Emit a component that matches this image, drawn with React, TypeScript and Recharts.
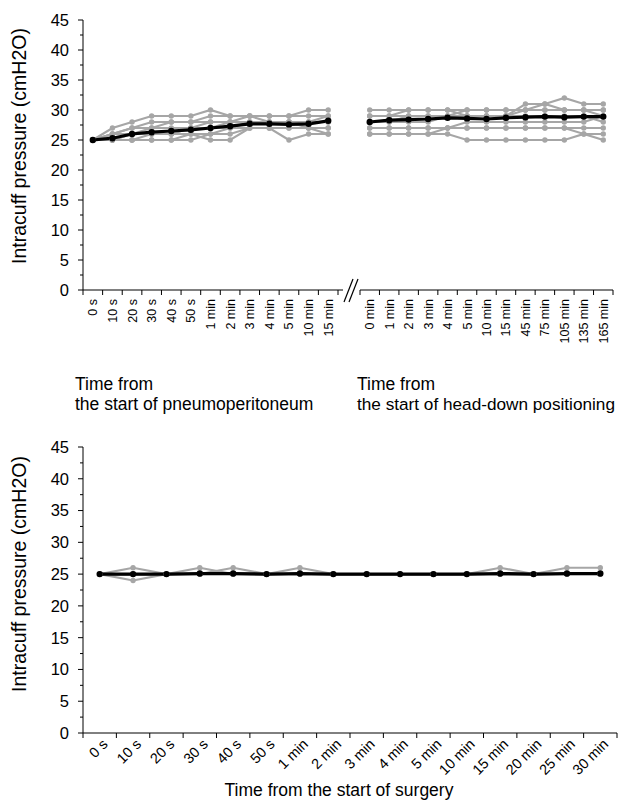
import { LineChart, Line, XAxis, YAxis } from "recharts";

const FONT = '"Liberation Sans", Arial, sans-serif';
const GREY = "#a6a6a6";

// y axis: labelled every 5, minor ticks in between
const yTicks = [0, 2.5, 5, 7.5, 10, 12.5, 15, 17.5, 20, 22.5, 25, 27.5, 30, 32.5, 35, 37.5, 40, 42.5, 45];

// top left: from the start of pneumoperitoneum
const pneumoCats = ["0 s", "10 s", "20 s", "30 s", "40 s", "50 s", "1 min", "2 min", "3 min", "4 min", "5 min", "10 min", "15 min"];
const pneumoPatients = [
  [25, 27, 28, 29, 29, 29, 30, 29, 29, 29, 29, 30, 30],
  [25, 26, 27, 28, 28, 28, 29, 29, 29, 29, 29, 29, 29],
  [25, 26, 27, 27, 28, 28, 28, 28, 29, 28, 28, 28, 29],
  [25, 25, 26, 27, 27, 27, 28, 28, 28, 28, 28, 28, 28],
  [25, 25, 26, 26, 26, 27, 27, 27, 28, 28, 28, 28, 28],
  [25, 25, 25, 26, 26, 26, 26, 27, 27, 27, 27, 27, 27],
  [25, 25, 25, 25, 25, 25, 26, 26, 27, 27, 25, 26, 26],
  [25, 25, 25, 25, 25, 26, 25, 25, 27, 27, 27, 27, 27],
  [25, 26, 26, 26, 26, 27, 27, 28, 28, 28, 28, 27, 26],
];
const pneumoMean = [25, 25.3, 26, 26.3, 26.5, 26.7, 27, 27.3, 27.7, 27.7, 27.6, 27.7, 28.2];

// top right: from the start of head-down positioning
const headDownCats = ["0 min", "1 min", "2 min", "3 min", "4 min", "5 min", "10 min", "15 min", "45 min", "75 min", "105 min", "135 min", "165 min"];
const headDownPatients = [
  [30, 30, 30, 30, 30, 30, 30, 30, 30, 30, 30, 30, 30],
  [29, 29, 30, 30, 30, 29, 29, 29, 31, 31, 32, 31, 31],
  [29, 29, 29, 29, 29, 30, 30, 30, 30, 31, 30, 30, 29],
  [28, 28, 28, 28, 29, 29, 29, 29, 29, 29, 29, 29, 28],
  [27, 27, 27, 27, 27, 28, 28, 28, 28, 28, 28, 28, 29],
  [27, 27, 27, 27, 27, 27, 27, 27, 27, 27, 27, 27, 27],
  [26, 26, 26, 26, 26, 25, 25, 25, 25, 25, 25, 26, 25],
  [26, 26, 26, 26, 27, 27, 27, 27, 27, 27, 27, 26, 26],
  [28, 28, 29, 29, 29, 29, 29, 29, 30, 30, 30, 30, 30],
];
const headDownMean = [28, 28.3, 28.4, 28.5, 28.7, 28.6, 28.5, 28.7, 28.8, 28.9, 28.8, 28.9, 28.9];

// bottom: from the start of surgery
const surgeryCats = ["0 s", "10 s", "20 s", "30 s", "40 s", "50 s", "1 min", "2 min", "3 min", "4 min", "5 min", "10 min", "15 min", "20 min", "25 min", "30 min"];
const surgeryPatients = [
  [25, 26, 25, 25, 25, 25, 25, 25, 25, 25, 25, 25, 25, 25, 25, 25],
  [25, 24, 25, 25, 25, 25, 25, 25, 25, 25, 25, 25, 25, 25, 25, 25],
  [25, 25, 25, 26, 25, 25, 25, 25, 25, 25, 25, 25, 25, 25, 25, 25],
  [25, 25, 25, 25, 26, 25, 25, 25, 25, 25, 25, 25, 25, 25, 25, 25],
  [25, 25, 25, 25, 25, 25, 26, 25, 25, 25, 25, 25, 25, 25, 25, 25],
  [25, 25, 25, 25, 25, 25, 25, 25, 25, 25, 25, 25, 26, 25, 25, 25],
  [25, 25, 25, 25, 25, 25, 25, 25, 25, 25, 25, 25, 25, 25, 26, 26],
];
const surgeryMean = [25, 25, 25, 25.1, 25.1, 25, 25.1, 25, 25, 25, 25, 25, 25.1, 25, 25.1, 25.1];

function buildRows(cats: string[], patients: number[][], mean: number[]) {
  return cats.map((cat, i) => {
    const row: Record<string, string | number> = { cat, mean: mean[i] };
    patients.forEach((p, j) => {
      row[`p${j}`] = p[i];
    });
    return row;
  });
}

function YTick({ x, y, payload }: any) {
  const major = payload.value % 5 === 0;
  return (
    <g>
      <line x1={x - (major ? 5 : 3)} x2={x} y1={y} y2={y} stroke="#000" />
      {major && (
        <text x={x - 14} y={y} dy="0.36em" textAnchor="end" fontSize={16.5} fontFamily={FONT} fill="#000">
          {payload.value}
        </text>
      )}
    </g>
  );
}

// tick marks sit on the category boundaries, labels in the middle
function makeXTick(step: number, count: number, angle: number) {
  return ({ x, y, payload, index }: any) => (
    <g>
      <line x1={x - step / 2} x2={x - step / 2} y1={y} y2={y + 5} stroke="#000" />
      {index === count - 1 && <line x1={x + step / 2} x2={x + step / 2} y1={y} y2={y + 5} stroke="#000" />}
      {angle === -90 ? (
        <text transform={`translate(${x + 4.5},${y + 9}) rotate(-90)`} textAnchor="end" fontSize={12.5} fontFamily={FONT} fill="#000">
          {payload.value}
        </text>
      ) : (
        <text transform={`translate(${x + 9},${y + 12}) rotate(-45)`} textAnchor="end" fontSize={14.5} fontFamily={FONT} fill="#000">
          {payload.value}
        </text>
      )}
    </g>
  );
}

function seriesLines(patients: number[][]) {
  const greys = patients.map((_, j) => (
    <Line
      key={`p${j}`}
      dataKey={`p${j}`}
      stroke={GREY}
      strokeWidth={2.2}
      dot={{ r: 2.7, fill: GREY, stroke: "none" }}
      activeDot={false}
      isAnimationActive={false}
    />
  ));
  return [
    ...greys,
    <Line
      key="mean"
      dataKey="mean"
      stroke="#000"
      strokeWidth={3.2}
      dot={{ r: 3.2, fill: "#000", stroke: "none" }}
      activeDot={false}
      isAnimationActive={false}
    />,
  ];
}

const TOP_H = 346;
const LEFT_W = 345;
const LEFT_PLOT = 338 - 83;
const RIGHT_PLOT = 613 - 360;
const BOTTOM_PLOT = 617 - 83;

export default function App() {
  const pneumoRows = buildRows(pneumoCats, pneumoPatients, pneumoMean);
  const headDownRows = buildRows(headDownCats, headDownPatients, headDownMean);
  const surgeryRows = buildRows(surgeryCats, surgeryPatients, surgeryMean);

  const axisStyle = { stroke: "#000", strokeWidth: 1 };

  return (
    <div style={{ position: "absolute", left: 0, top: 0, width: 625, height: 809, background: "#fff", fontFamily: FONT }}>
      <div style={{ position: "absolute", left: 0, top: 0 }}>
        <LineChart width={LEFT_W} height={TOP_H} data={pneumoRows} margin={{ top: 20, right: LEFT_W - 338, bottom: 0, left: 0 }}>
          <YAxis
            domain={[0, 45]}
            ticks={yTicks}
            interval={0}
            width={83}
            axisLine={axisStyle}
            tickLine={false}
            tickSize={0}
            tickMargin={0}
            tick={<YTick />}
          />
          <XAxis
            dataKey="cat"
            scale="band"
            interval={0}
            height={56}
            axisLine={axisStyle}
            tickLine={false}
            tickSize={0}
            tickMargin={0}
            tick={makeXTick(LEFT_PLOT / pneumoCats.length, pneumoCats.length, -90)}
          />
          {seriesLines(pneumoPatients)}
        </LineChart>
      </div>

      <div style={{ position: "absolute", left: LEFT_W, top: 0 }}>
        <LineChart width={625 - LEFT_W} height={TOP_H} data={headDownRows} margin={{ top: 20, right: 625 - 613, bottom: 0, left: 360 - LEFT_W }}>
          <YAxis domain={[0, 45]} hide />
          <XAxis
            dataKey="cat"
            scale="band"
            interval={0}
            height={56}
            axisLine={axisStyle}
            tickLine={false}
            tickSize={0}
            tickMargin={0}
            tick={makeXTick(RIGHT_PLOT / headDownCats.length, headDownCats.length, -90)}
          />
          {seriesLines(headDownPatients)}
        </LineChart>
      </div>

      <div style={{ position: "absolute", left: 0, top: 428 }}>
        <LineChart width={625} height={381} data={surgeryRows} margin={{ top: 19, right: 625 - 617, bottom: 0, left: 0 }}>
          <YAxis
            domain={[0, 45]}
            ticks={yTicks}
            interval={0}
            width={83}
            axisLine={axisStyle}
            tickLine={false}
            tickSize={0}
            tickMargin={0}
            tick={<YTick />}
          />
          <XAxis
            dataKey="cat"
            scale="band"
            interval={0}
            height={76}
            axisLine={axisStyle}
            tickLine={false}
            tickSize={0}
            tickMargin={0}
            tick={makeXTick(BOTTOM_PLOT / surgeryCats.length, surgeryCats.length, -45)}
          />
          {seriesLines(surgeryPatients)}
        </LineChart>
      </div>

      <svg width={625} height={809} style={{ position: "absolute", left: 0, top: 0, pointerEvents: "none" }}>
        {/* axis break between the two time frames */}
        <line x1={338} x2={343} y1={290} y2={290} stroke="#000" />
        <line x1={344} y1={302} x2={353} y2={279} stroke="#000" strokeWidth={1.2} />
        <line x1={349} y1={302} x2={358} y2={279} stroke="#000" strokeWidth={1.2} />

        <text transform="translate(26,146) rotate(-90)" textAnchor="middle" fontSize={19.5} fontFamily={FONT} fill="#000">
          Intracuff pressure (cmH2O)
        </text>
        <text transform="translate(26,574) rotate(-90)" textAnchor="middle" fontSize={19.5} fontFamily={FONT} fill="#000">
          Intracuff pressure (cmH2O)
        </text>

        <text x={75} y={390} fontSize={17.5} fontFamily={FONT} fill="#000">Time from</text>
        <text x={75} y={410} fontSize={17.5} fontFamily={FONT} fill="#000">the start of pneumoperitoneum</text>
        <text x={357} y={390} fontSize={17.5} fontFamily={FONT} fill="#000">Time from</text>
        <text x={357} y={410} fontSize={17.2} fontFamily={FONT} fill="#000">the start of head-down positioning</text>

        <text x={339} y={796} textAnchor="middle" fontSize={17.5} fontFamily={FONT} fill="#000">
          Time from the start of surgery
        </text>
      </svg>
    </div>
  );
}
